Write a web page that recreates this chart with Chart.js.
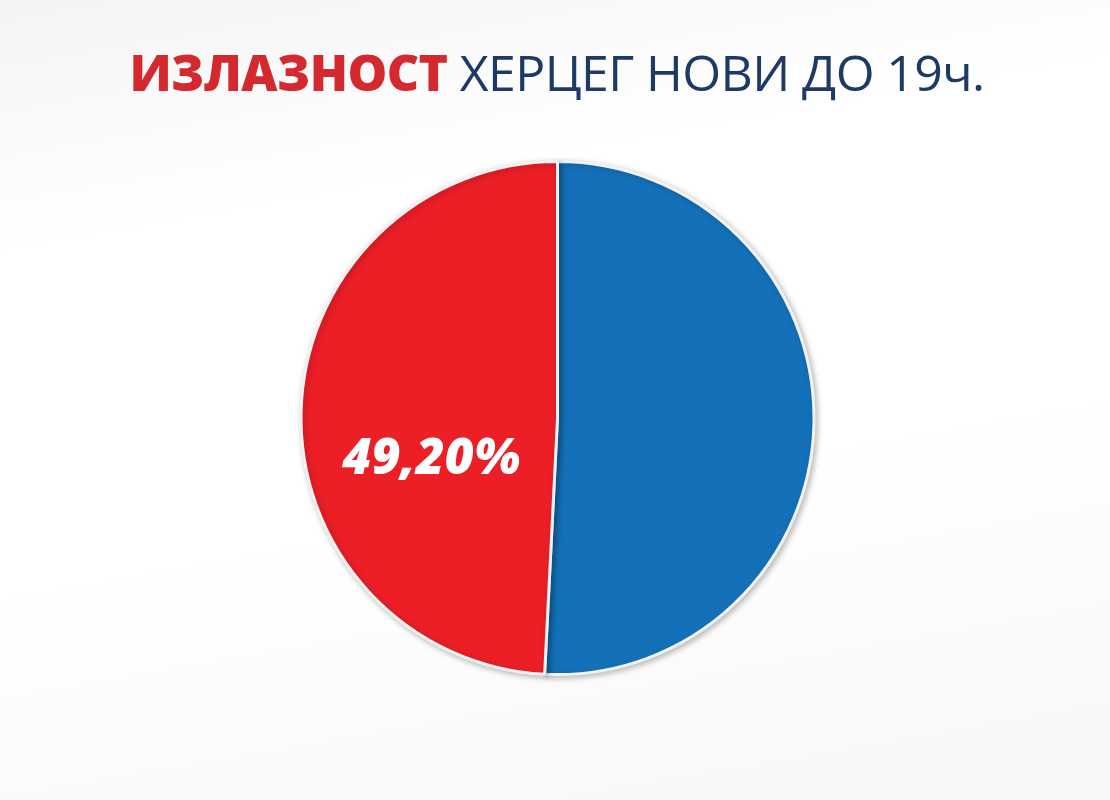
<!DOCTYPE html>
<html>
<head>
<meta charset="utf-8">
<script src="https://cdn.jsdelivr.net/npm/chart.js"></script>
<style>
  html, body { margin: 0; padding: 0; background: #fff; }
  #wrap { position: relative; width: 1110px; height: 800px; overflow: hidden;
    background: linear-gradient(170deg, #f4f4f5 0%, #ffffff 25%, #ffffff 60%, #f7f7f8 100%); }
  #title { position: absolute; left: 0; top: 38px; width: 1110px; text-align: center;
    font-family: "Open Sans", sans-serif; font-size: 50px; white-space: nowrap; letter-spacing: -0.6px; padding-left: 4px; box-sizing: border-box; }
  #title .hot { color: #d42a2f; font-weight: 800; }
  #title .rest { color: #1d3a66; font-weight: 400; }
  canvas { position: absolute; left: 0; top: 0; }
</style>
</head>
<body>
<div id="wrap">
  <div id="title"><span class="hot">ИЗЛАЗНОСТ</span> <span class="rest">ХЕРЦЕГ НОВИ ДО 19ч.</span></div>
  <canvas id="pie" width="1110" height="800"></canvas>
</div>
<script>
'use strict';
// turnout Herceg Novi until 19h
const sliceNames = ['Нису гласали', 'Излазност'];
const sliceValues = [50.80, 49.20];
const sliceColors = ['#1471b9', '#ec1f27'];
const sliceLabels = ['', '49,20%'];

const shadow = {
  id: 'shadow',
  beforeDatasetsDraw(chart) {
    const c = chart.ctx;
    c.save();
    c.shadowColor = 'rgba(0,0,0,0.25)';
    c.shadowBlur = 6;
    c.shadowOffsetX = 2;
    c.shadowOffsetY = 2;
  },
  afterDatasetsDraw(chart) {
    chart.ctx.restore();
  }
};

const sliceText = {
  id: 'sliceText',
  afterDatasetsDraw(chart) {
    const c = chart.ctx;
    chart.getDatasetMeta(0).data.forEach((arc, i) => {
      if (!sliceLabels[i]) return;
      const p = arc.tooltipPosition();
      c.save();
      c.fillStyle = '#fff';
      c.font = 'italic 800 50px "Open Sans", sans-serif';
      c.textAlign = 'center';
      c.textBaseline = 'middle';
      c.fillText(sliceLabels[i], p.x + 2, p.y + 45);
      c.restore();
    });
  }
};

new Chart(document.getElementById('pie'), {
  type: 'pie',
  data: {
    labels: sliceNames,
    datasets: [{
      data: sliceValues,
      backgroundColor: sliceColors,
      borderColor: '#f2f2f2',
      borderWidth: 3
    }]
  },
  options: {
    responsive: false,
    animation: false,
    layout: { padding: { top: 160, bottom: 124, left: 5, right: 0 } },
    plugins: {
      legend: { display: false },
      tooltip: { enabled: false }
    }
  },
  plugins: [shadow, sliceText]
});
</script>
</body>
</html>
